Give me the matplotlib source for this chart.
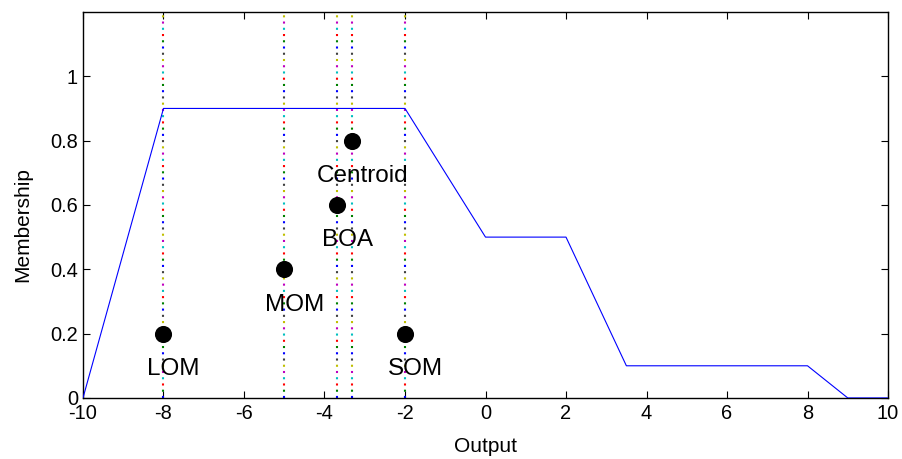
import numpy as np
import matplotlib
matplotlib.use("Agg")
import matplotlib.pyplot as plt

plt.rcParams['font.family'] = ['Liberation Sans', 'DejaVu Sans']
plt.rcParams['axes.unicode_minus'] = False
plt.rcParams['lines.scale_dashes'] = False

# membership function (aggregated output)
mf_x = [-10, -8, -2, 0, 2, 3.5, 8, 9, 10]
mf_y = [0, 0.9, 0.9, 0.5, 0.5, 0.1, 0.1, 0, 0]

# defuzzified results
methods = ['LOM', 'MOM', 'BOA', 'Centroid', 'SOM']
method_x = [-8, -5, -3.69, -3.31, -2]
method_y = [0.2, 0.4, 0.6, 0.8, 0.2]

# colours of the dotted vertical lines, from the bottom upwards
dot_colors = ['#0000ff', '#008000', '#ff0000', '#00bfbf', '#bf00bf', '#bfbf00', '#404040']

xticks = np.arange(-10, 11, 2)
yticks = [0, 0.2, 0.4, 0.6, 0.8, 1]
ytick_labels = ['0', '0.2', '0.4', '0.6', '0.8', '1']

fig = plt.figure(figsize=(9.02, 4.59), dpi=100)
ax = fig.add_axes([0.092, 0.133, 0.8925, 0.841])

ax.plot(mf_x, mf_y, color='#0000ff', lw=0.8, zorder=3)

# multi-coloured dotted lines
spacing = 6.24 * 72 / 100  # points
period = spacing * len(dot_colors)
dot = 1.5
for xv in method_x:
    for k, c in enumerate(dot_colors):
        off = (period - k * spacing) % period
        ax.plot([xv, xv], [0, 1.2], color=c, lw=1.5,
                linestyle=(off, (dot, period - dot)),
                dash_capstyle='butt', zorder=2)

ax.plot(method_x, method_y, 'o', color='black', ms=11.3, zorder=4)
for name, xv, yv in zip(methods, method_x, method_y):
    ax.text(xv + 0.25, yv - 0.11, name, ha='center', va='center',
            fontsize=17.5, zorder=5)

ax.set_xlim(-10, 10)
ax.set_ylim(0, 1.2)
ax.set_xticks(xticks)
ax.set_yticks(yticks)
ax.set_yticklabels(ytick_labels)
ax.tick_params(direction='in', top=True, right=True, labelsize=14.4,
               length=5, width=0.8)
ax.tick_params(axis='x', pad=4)
ax.set_xlabel('Output', fontsize=15, va='center')
ax.set_ylabel('Membership', fontsize=15, va='center')
ax.xaxis.set_label_coords(0.5, -0.125)
ax.yaxis.set_label_coords(-0.0745, 0.45)
for s in ax.spines.values():
    s.set_linewidth(1.0)

fig.savefig('out.png', dpi=100)
